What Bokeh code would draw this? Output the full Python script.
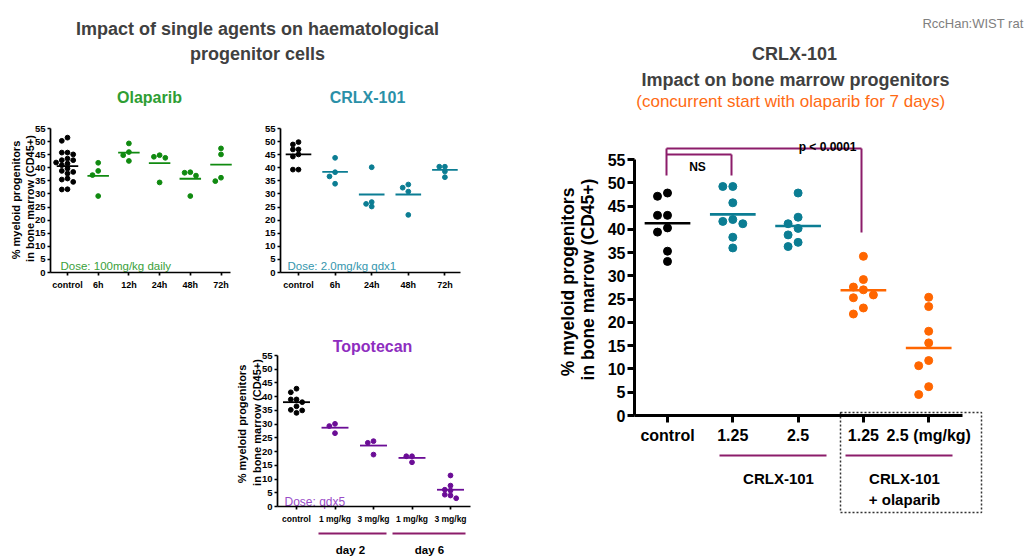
import math
from bokeh.plotting import figure
from bokeh.models import Range1d, LinearAxis, FixedTicker
from bokeh.core.properties import value
from bokeh.embed import file_html
from bokeh.resources import INLINE

# ---------------- data ----------------
y_ticks = [0, 5, 10, 15, 20, 25, 30, 35, 40, 45, 50, 55]

olap_groups = ["control", "6h", "12h", "24h", "48h", "72h"]
olap_values = [
    [51.5, 50.3, 45.8, 45.8, 45.1, 43.5, 42.9, 42.9, 42.0, 41.6, 41.0, 39.7,
     38.8, 38.4, 37.8, 35.9, 35.5, 34.6, 31.8, 31.7],
    [41.9, 38.8, 37.2, 29.2],
    [49.3, 46.0, 44.8, 42.6],
    [44.8, 44.2, 43.8, 34.4],
    [38.3, 38.1, 37.0, 29.2],
    [47.4, 45.1, 36.2, 34.9],
]
olap_means = [40.6, 36.9, 45.8, 41.8, 35.8, 41.2]

crlx_groups = ["control", "6h", "24h", "48h", "72h"]
crlx_values = [
    [49.8, 48.9, 47.0, 47.0, 45.1, 44.3, 39.3, 39.3],
    [43.8, 38.3, 36.7, 33.9],
    [40.2, 26.9, 26.2, 25.2],
    [33.6, 32.4, 30.9, 22.0],
    [40.4, 40.4, 38.6, 36.4],
]
crlx_means = [45.1, 38.4, 29.8, 29.8, 39.2]

topo_groups = ["control", "1 mg/kg", "3 mg/kg", "1 mg/kg", "3 mg/kg"]
topo_values = [
    [42.9, 41.6, 39.0, 39.0, 38.0, 36.5, 35.2, 35.0, 34.1],
    [30.1, 29.3, 26.7],
    [23.8, 23.2, 18.9],
    [18.3, 18.3, 16.1],
    [11.3, 7.6, 6.1, 5.8, 4.3, 4.0, 3.0],
]
topo_means = [38.0, 28.7, 22.2, 17.7, 6.1]
topo_days = ["day 2", "day 6"]

combo_groups = ["control", "1.25", "2.5", "1.25", "2.5 (mg/kg)"]
combo_values = [
    [47.8, 47.1, 43.0, 43.0, 40.3, 39.4, 35.3, 33.1],
    [49.2, 49.2, 45.7, 42.1, 41.7, 41.2, 38.3, 36.0],
    [47.8, 42.6, 41.2, 40.2, 38.8, 37.2, 36.3],
    [34.2, 29.2, 27.6, 27.0, 25.9, 25.3, 23.1, 21.8],
    [25.4, 23.4, 18.1, 15.6, 11.8, 10.7, 6.2, 4.5],
]
combo_means = [41.3, 43.2, 40.7, 26.9, 14.5]
combo_sets = ["CRLX-101", "CRLX-101", "+ olaparib"]

# ---------------- styles ----------------
FONT = "Liberation Sans"
BLACK = "#000000"
GREEN = "#108A10"
GREEN_T = "#2E9E33"
TEAL = "#0B7D93"
TEAL_T = "#2A90A8"
PURPLE = "#6B0D96"
PURPLE_T = "#8E2DBF"
ORANGE = "#FF6600"
MAROON = "#8C1C6A"
GRAY = "#404040"

# page geometry: the canvas sits at the top-left of the screenshot
W, H = 1036, 559
LEFT, RIGHT, TOP, BOTTOM = 0, W, 0, H

geom = {
    "olap": dict(x0=67.0, dx=30.7, y0=272.0, y55=128.0, axis_x=50.0, axis_end=230.0),
    "crlx": dict(x0=298.0, dx=36.6, y0=272.0, y55=128.0, axis_x=280.0, axis_end=460.0),
    "topo": dict(x0=296.0, dx=38.5, y0=506.0, y55=355.0, axis_x=277.0, axis_end=470.0),
    "combo": dict(x0=667.0, dx=65.3, y0=415.0, y55=159.0, axis_x=634.0, axis_end=962.0),
}

def ty(Y):
    return H - Y

p = figure(width=W, height=H, output_backend="svg", toolbar_location=None,
           x_range=Range1d(LEFT, RIGHT), y_range=Range1d(H - BOTTOM, H - TOP),
           x_axis_location=None, y_axis_location=None, min_border=0)
p.outline_line_color = None
p.xgrid.visible = False
p.ygrid.visible = False
p.background_fill_color = "white"
p.border_fill_color = "white"

xr_map, yr_map = {}, {}
for key, g in geom.items():
    k = (g["y0"] - g["y55"]) / 55.0
    g["k"] = k
    xr_map[key + "_x"] = Range1d(start=(LEFT - g["x0"]) / g["dx"], end=(RIGHT - g["x0"]) / g["dx"])
    yr_map[key + "_y"] = Range1d(start=(g["y0"] - BOTTOM) / k, end=(g["y0"] - TOP) / k)
p.extra_x_ranges = xr_map
p.extra_y_ranges = yr_map


def swarm(vals, k, dx, step, diam):
    placed, offs = [], []
    for v in vals:
        yy = v * k
        chosen = 0.0
        for c in (0, -1, 1, -2, 2, -3, 3, -4, 4, -5, 5):
            xx = c * step
            if all((xx - px) ** 2 + (yy - py) ** 2 >= diam ** 2 for px, py in placed):
                chosen = xx
                break
        placed.append((chosen, yy))
        offs.append(chosen / dx)
    return offs


def panel(key, groups, values, means, colors, msize, step, diam, axis_w, mean_w,
          tick_out, font_px, xfont_px):
    g = geom[key]
    xr, yr = key + "_x", key + "_y"
    xs, ys, cs = [], [], []
    for i, vals in enumerate(values):
        offs = swarm(vals, g["k"], g["dx"], step, diam)
        for v, o in zip(vals, offs):
            xs.append(i + o)
            ys.append(v)
            cs.append(colors[i])
    p.scatter(x=xs, y=ys, size=msize, fill_color=cs, line_color=cs,
              x_range_name=xr, y_range_name=yr)
    idx = list(range(len(groups)))
    p.segment(x0=[i - 0.35 for i in idx], x1=[i + 0.35 for i in idx], y0=means, y1=means,
              line_color=colors, line_width=mean_w, x_range_name=xr, y_range_name=yr)

    ax_loc = (g["axis_x"] - g["x0"]) / g["dx"]
    ax_end = (g["axis_end"] - g["x0"]) / g["dx"]
    ya = LinearAxis(x_range_name=xr, y_range_name=yr, fixed_location=ax_loc,
                    bounds=(0, 55), ticker=FixedTicker(ticks=y_ticks))
    xa = LinearAxis(x_range_name=xr, y_range_name=yr, fixed_location=0,
                    bounds=(ax_loc, ax_end), ticker=FixedTicker(ticks=idx),
                    major_label_overrides={i: groups[i] for i in idx})
    for a, fp in ((ya, font_px), (xa, xfont_px)):
        a.axis_line_width = axis_w
        a.axis_line_color = BLACK
        a.major_tick_line_width = axis_w
        a.major_tick_out = tick_out
        a.major_tick_in = 0
        a.minor_tick_line_color = None
        a.major_label_text_font = FONT
        a.major_label_text_font_style = "bold"
        a.major_label_text_font_size = f"{fp}px"
        a.major_label_text_color = BLACK
    ya.major_label_standoff = 2
    xa.major_label_standoff = 4
    p.add_layout(ya, "left")
    p.add_layout(xa, "below")


panel("olap", olap_groups, olap_values, olap_means, [BLACK] + [GREEN] * 5,
      4.8, 5.7, 4.4, 1.7, 1.8, 3, 9.5, 9)
panel("crlx", crlx_groups, crlx_values, crlx_means, [BLACK] + [TEAL] * 4,
      4.8, 5.6, 4.4, 1.7, 1.8, 3, 9.5, 9)
panel("topo", topo_groups, topo_values, topo_means, [BLACK] + [PURPLE] * 4,
      4.8, 5.7, 4.4, 1.7, 1.8, 3, 9.5, 8.5)
panel("combo", combo_groups, combo_values, combo_means,
      [BLACK, TEAL, TEAL, ORANGE, ORANGE], 8, 10, 8.2, 3, 2.6, 7, 16, 16)

# ---------------- decorations (page pixel coordinates) ----------------
# significance brackets
p.segment(x0=[666, 666, 861, 666, 731], x1=[861, 666, 861, 731, 731],
          y0=[ty(148), ty(148), ty(148), ty(154), ty(154)],
          y1=[ty(148), ty(175), ty(232), ty(154), ty(175)],
          line_color=MAROON, line_width=2)
# group underlines
p.segment(x0=[719, 845, 318, 392], x1=[826, 952, 386, 465],
          y0=[ty(455), ty(455), ty(533), ty(533)], y1=[ty(455), ty(455), ty(533), ty(533)],
          line_color=MAROON, line_width=1.8)
# dotted box around the combination groups
p.quad(left=[840], right=[981], top=[ty(412)], bottom=[ty(512)], fill_color=None,
       line_color="#333333", line_dash="2 2", line_width=1.5)


def txt(x, Y, s, size, color=BLACK, bold=True, align="center", font=FONT, angle=0.0,
        baseline="alphabetic"):
    p.text(x=[x], y=[ty(Y)], text=[s], text_font=value(font),
           text_font_size=value(f"{size}px"), text_font_style="bold" if bold else "normal",
           text_color=color, text_align=align, text_baseline=baseline, angle=angle)


# titles
txt(257, 28, "Impact of single agents on haematological", 18, GRAY)
txt(257, 53, "progenitor cells", 18, GRAY)
txt(149, 97, "Olaparib", 16, GREEN_T)
txt(367, 97, "CRLX-101", 16, TEAL_T)
txt(372, 346, "Topotecan", 16, PURPLE_T)
txt(794, 53, "CRLX-101", 18, GRAY)
txt(795, 79, "Impact on bone marrow progenitors", 18, GRAY)
txt(795, 101, "(concurrent start with  olaparib  for 7 days)", 17, "#FF6A13", bold=False)
txt(1023, 23, "RccHan:WIST rat", 13, "#808080", bold=False, align="right")

# dose notes
txt(60, 265, "Dose: 100mg/kg  daily", 11.5, "#3AA03A", bold=False, align="left")
txt(287, 265, "Dose: 2.0mg/kg  qdx1", 11.5, "#3596AD", bold=False, align="left")
txt(284, 501, "Dose: qdx5", 12, "#9A4CC8", bold=False, align="left")

# y-axis titles
half_pi = math.pi / 2
for (x1, x2, yc, size) in ((15, 29, 198, 11), (241, 256, 422, 11), (567, 587, 279, 17.5)):
    txt(x1, yc, "% myeloid  progenitors", size, angle=half_pi, baseline="middle")
    txt(x2, yc, "in bone marrow (CD45+)", size, angle=half_pi, baseline="middle")

# statistics labels
txt(697, 166, "NS", 12)
txt(827, 146, "p < 0.0001", 12)

# group labels
txt(778, 478, combo_sets[0], 15)
txt(904, 478, combo_sets[1], 15)
txt(904, 499, combo_sets[2], 15)
txt(350, 549, topo_days[0], 11.5)
txt(429, 549, topo_days[1], 11.5)

open("out.html", "w").write(file_html(p, INLINE))
